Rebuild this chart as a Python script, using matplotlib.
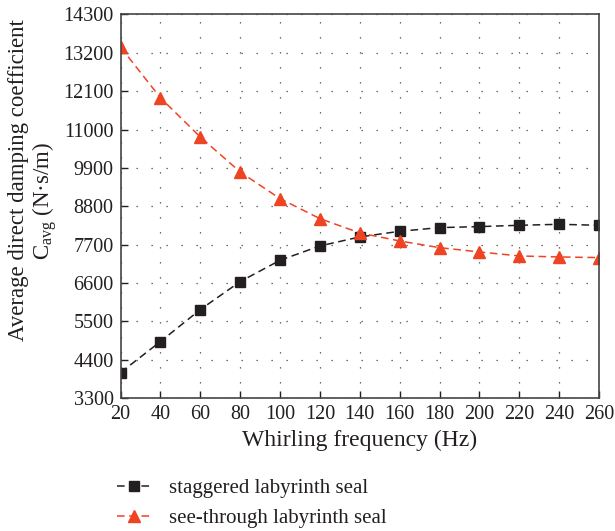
import matplotlib
matplotlib.use("Agg")
import matplotlib.pyplot as plt

plt.rcParams['font.family'] = ['Liberation Serif', 'DejaVu Serif']
plt.rcParams['mathtext.fontset'] = 'custom'
plt.rcParams['mathtext.rm'] = 'Liberation Serif'
plt.rcParams['mathtext.it'] = 'Liberation Serif:italic'

# whirling frequency (Hz)
freq = [20, 40, 60, 80, 100, 120, 140, 160, 180, 200, 220, 240, 260]
# average direct damping coefficient (N·s/m)
staggered = [4036, 4924, 5840, 6642, 7253, 7664, 7922, 8084, 8189, 8218, 8256, 8284, 8256]
see_through = [13360, 11910, 10786, 9783, 9020, 8447, 8036, 7807, 7615, 7492, 7377, 7349, 7330]

y_ticks = [3300, 4400, 5500, 6600, 7700, 8800, 9900, 11000, 12100, 13200, 14300]

black = '#231f20'
red = '#ee4423'

fig = plt.figure(figsize=(6.15, 5.31), dpi=100)
ax = fig.add_axes([0.196, 0.25, 0.778, 0.723])

ax.plot(freq, staggered, color=black, linestyle=(0, (5, 3)), linewidth=1.1,
        marker='s', markersize=7, label='staggered labyrinth seal')
ax.plot(freq, see_through, color=red, linestyle=(0, (5, 3)), linewidth=1.1,
        marker='^', markersize=8, label='see-through labyrinth seal')

ax.set_xlim(20, 260)
ax.set_ylim(3300, 14300)
ax.set_xticks(freq)
ax.set_yticks(y_ticks)
ax.tick_params(direction='in', length=5, width=1, labelsize=14.5, colors=black)
ax.tick_params(axis='y', pad=5)
ax.tick_params(axis='x', pad=5)
ax.grid(True, color='#444444', linestyle=(0, (1, 11)), linewidth=0.9)
for s in ax.spines.values():
    s.set_color('#444444')
    s.set_linewidth(1.2)

ax.set_xlabel('Whirling frequency (Hz)', fontsize=17, color=black, labelpad=4)

# y label as two separate lines
fig.text(0.030, 0.66, 'Average direct damping coefficient', rotation=90,
         ha='center', va='center', fontsize=16.5, color=black)
fig.text(0.073, 0.622, '$\\mathrm{C}_{\\mathrm{avg}}$ (N·s/m)', rotation=90,
         ha='center', va='center', fontsize=16.5, color=black)

fig.legend(loc='lower left', bbox_to_anchor=(0.16, -0.03), frameon=False,
           fontsize=15, handlelength=1.6, handletextpad=0.9, labelspacing=0.5,
           labelcolor=black)

fig.savefig('out.png', dpi=100)
